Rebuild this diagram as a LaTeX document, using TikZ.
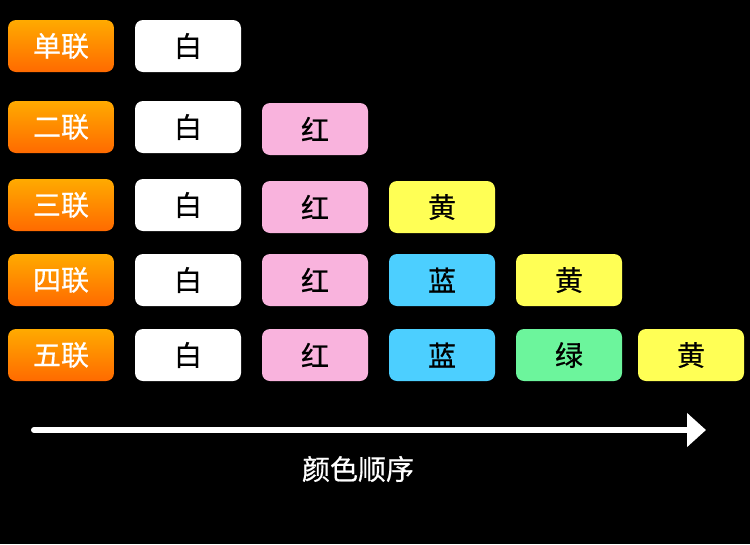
\documentclass[tikz,border=0pt]{standalone}
\usepackage{fontspec}
\setmainfont{Noto Sans CJK SC}
\newfontfamily\chipfont{Noto Sans CJK SC}[FakeBold=0.6]
\usetikzlibrary{arrows.meta,positioning}
\definecolor{bgblack}{HTML}{000000}
\definecolor{ordertop}{HTML}{FFAA00}
\definecolor{orderbot}{HTML}{FF6A00}
\definecolor{cwhite}{HTML}{FFFFFF}
\definecolor{cred}{HTML}{F9B3DD}
\definecolor{cyellow}{HTML}{FFFF55}
\definecolor{cblue}{HTML}{4CCFFF}
\definecolor{cgreen}{HTML}{6CF59C}

\begin{document}
\begin{tikzpicture}[
    x=1pt, y=1pt,
    every node/.style={font=\chipfont\fontsize{28}{30}\selectfont},
    chip/.style={rectangle, rounded corners=8pt, minimum width=106pt,
                 minimum height=52pt, inner sep=0pt, text=black},
    rowlabel/.style={chip, top color=ordertop, bottom color=orderbot, text=white},
    whitechip/.style={chip, fill=cwhite},
    redchip/.style={chip, fill=cred},
    yellowchip/.style={chip, fill=cyellow},
    bluechip/.style={chip, fill=cblue},
    greenchip/.style={chip, fill=cgreen},
    axisarrow/.style={-{Triangle[length=19pt, width=33pt]}, line width=6pt,
                      line cap=round, white},
]

% --- Background ---
\fill[bgblack] (0,0) rectangle (750,-544);

% --- Row 1 ---
\node[rowlabel] (lab1) at (61,-46) {单联};
\node[whitechip] (w1) at (188,-46) {白};

% --- Row 2 ---
\node[rowlabel] (lab2) at (61,-127) {二联};
\node[whitechip] (w2) at (188,-127) {白};
\node[redchip] (r2) at (315,-129) {红};

% --- Row 3 ---
\node[rowlabel] (lab3) at (61,-205) {三联};
\node[whitechip] (w3) at (188,-205) {白};
\node[redchip] (r3) at (315,-207) {红};
\node[yellowchip] (y3) at (442,-207) {黄};

% --- Row 4 ---
\node[rowlabel] (lab4) at (61,-280) {四联};
\node[whitechip] (w4) at (188,-280) {白};
\node[redchip] (r4) at (315,-280) {红};
\node[bluechip] (b4) at (442,-280) {蓝};
\node[yellowchip] (y4) at (569,-280) {黄};

% --- Row 5 ---
\node[rowlabel] (lab5) at (61,-355) {五联};
\node[whitechip] (w5) at (188,-355) {白};
\node[redchip] (r5) at (315,-355) {红};
\node[bluechip] (b5) at (442,-355) {蓝};
\node[greenchip] (g5) at (569,-355) {绿};
\node[yellowchip] (y5) at (691,-355) {黄};

% --- Order axis ---
\coordinate (axisstart) at (34,-430);
\coordinate (axisend) at (706,-430);
\draw[axisarrow] (axisstart) -- (axisend);
\node[text=white] (axislabel) at (358,-469) {颜色顺序};

\end{tikzpicture}
\end{document}
